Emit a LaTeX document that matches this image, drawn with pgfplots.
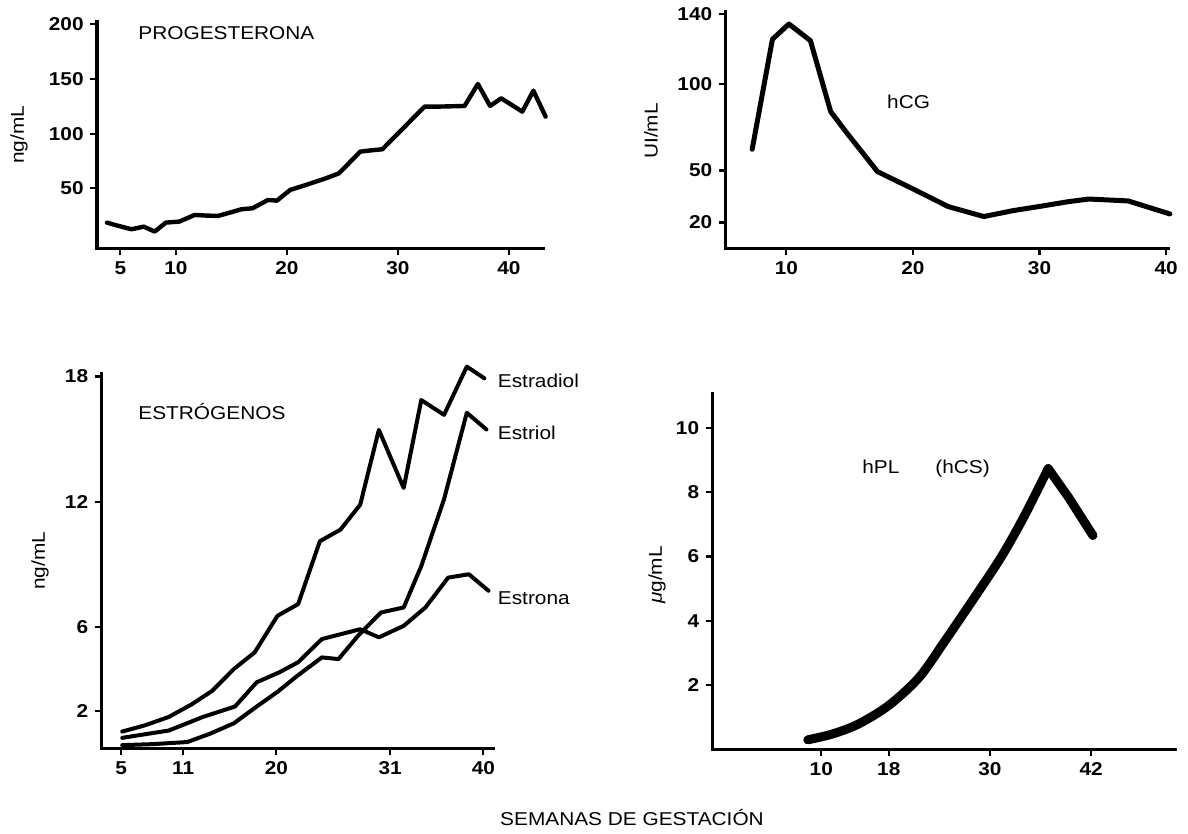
\documentclass[border=0pt]{standalone}
\usepackage{fontspec}
\setmainfont{Liberation Sans}[FakeStretch=1.12]
\usepackage{pgfplots}
\pgfplotsset{compat=1.18}
\newcommand\fs{\fontsize{9.3}{11}\selectfont}
\pgfplotsset{
  panel/.style={
    scale only axis,
    axis lines=left,
    axis line style={-, line width=1.7pt, line cap=rect},
    every outer x axis line/.append style={-},
    every outer y axis line/.append style={-},
    every inner x axis line/.append style={-},
    every inner y axis line/.append style={-},
    tick align=outside,
    major tick length=3.5pt,
    tick style={line width=1.1pt, black},
    /pgf/number format/assume math mode=true,
    tick label style={font=\fs\bfseries},
    xticklabel style={inner sep=3pt},
    yticklabel style={inner sep=3pt},
    clip=false,
    anchor=south west,
  },
  curve/.style={black, line width=2.2pt, line join=round, line cap=round, mark=none},
}
\begin{document}
\begin{tikzpicture}
% ---------------- Progesterona ----------------
\begin{axis}[panel, at={(48.5pt,292.85pt)}, width=223.2pt, height=113.3pt,
  xmin=2.9, xmax=43.1, ymin=-4.9, ymax=202.4,
  xtick={5,10,20,30,40}, ytick={50,100,150,200}]
\addplot[curve] table {
x y
3.8 18.6
4.5 16.5
6.0 12.5
7.1 14.9
8.1 10.4
9.1 18.6
10.3 19.5
11.7 25.6
12.8 25.0
13.8 24.7
15.2 28.7
15.9 30.8
16.9 31.7
18.3 39.3
19.1 38.7
20.3 48.5
21.7 53.0
23.5 59.1
24.7 63.7
26.6 83.5
27.4 84.5
28.6 85.7
32.4 124.7
33.6 124.7
36.0 125.3
37.2 145.4
38.3 125.3
39.3 132.3
41.2 120.1
42.2 139.3
43.3 115.5
};
\end{axis}
% ---------------- hCG ----------------
\begin{axis}[panel, at={(362.8pt,292.85pt)}, width=221.2pt, height=118.3pt,
  xmin=5.2, xmax=40.15, ymin=5.1, ymax=141.5,
  xtick={10,20,30,40}, ytick={20,50,100,140}]
\addplot[curve, line width=2.5pt] table {
x y
7.3 62.2
8.9 125.6
10.2 134.4
11.9 124.8
13.5 83.9
14.8 71.4
17.2 49.3
19.9 39.7
22.8 29.1
25.6 23.4
27.9 26.8
29.9 29.1
32.3 32.0
33.9 33.5
37.0 32.4
40.3 24.9
};
\end{axis}
% ---------------- Estrogenos ----------------
\begin{axis}[panel, at={(50.75pt,42.85pt)}, width=196.1pt, height=187.5pt,
  xmin=3.1, xmax=41.0, ymin=0.2, ymax=18.15,
  xtick={5,11,20,31,40}, ytick={2,6,12,18}]
% Estradiol
\addplot[curve, line width=2pt] table {
x y
5.1 1.0
7.3 1.3
9.6 1.7
11.8 2.3
13.8 2.95
15.9 4.00
17.9 4.79
20.1 6.54
22.1 7.10
24.2 10.11
26.2 10.67
28.1 11.86
29.9 15.44
32.3 12.66
34.0 16.87
36.2 16.16
38.4 18.47
40.1 17.91
};
% Estriol
\addplot[curve, line width=2pt] table {
x y
5.1 0.35
8.1 0.4
11.4 0.5
13.6 0.9
15.9 1.4
18.1 2.2
20.1 2.9
22.1 3.7
24.4 4.55
26.0 4.47
27.9 5.59
30.1 6.70
32.3 6.94
34.0 8.92
36.2 12.12
38.4 16.26
40.3 15.46
};
% Estrona
\addplot[curve, line width=2pt] table {
x y
5.1 0.7
9.6 1.05
12.9 1.7
16.0 2.2
18.1 3.36
20.3 3.84
22.1 4.32
24.4 5.43
28.1 5.90
29.9 5.51
32.3 6.06
34.4 6.94
36.6 8.37
38.6 8.53
40.5 7.74
};
\end{axis}
% ---------------- hPL ----------------
\begin{axis}[panel, at={(356.25pt,42.25pt)}, width=231.55pt, height=178.1pt,
  xmin=-2.89, xmax=52.0, ymin=0, ymax=11.07,
  xtick={10,18,30,42}, ytick={2,4,6,8,10}]
\addplot[curve, line width=4.5pt, smooth] table {
x y
8.4 0.30
11.3 0.48
14.4 0.79
18.0 1.37
21.6 2.24
24.7 3.39
28.2 4.74
31.3 5.97
34.0 7.22
36.9 8.73
};
\addplot[curve, line width=4.5pt] table {
x y
36.9 8.73
39.3 7.84
42.2 6.65
};
\end{axis}
% ---------------- texts ----------------
\node[anchor=base west, font=\fs, inner sep=0pt] at (69pt,397.35pt) {PROGESTERONA};
\node[anchor=base west, font=\fs, inner sep=0pt] at (443.4pt,362.8pt) {hCG};
\node[anchor=base west, font=\fs, inner sep=0pt] at (69pt,207pt) {ESTRÓGENOS};
\node[anchor=base west, font=\fs, inner sep=0pt] at (248.75pt,223.3pt) {Estradiol};
\node[anchor=base west, font=\fs, inner sep=0pt] at (248.75pt,197.3pt) {Estriol};
\node[anchor=base west, font=\fs, inner sep=0pt] at (248.75pt,114.5pt) {Estrona};
\node[anchor=base west, font=\fs, inner sep=0pt] at (431pt,180.3pt) {hPL};
\node[anchor=base west, font=\fs, inner sep=0pt] at (467.5pt,180.3pt) {(hCS)};
\node[rotate=90, font=\fs] at (9.5pt,349.5pt) {ng/mL};
\node[rotate=90, font=\fs] at (325.5pt,351.5pt) {UI/mL};
\node[rotate=90, font=\fs] at (20pt,136.5pt) {ng/mL};
\node[rotate=90, font=\fs] at (328.5pt,129.5pt) {{\itshape μ}g/mL};
\node[anchor=base, font=\fs, inner sep=0pt] at (316pt,4pt) {SEMANAS DE GESTACIÓN};
\pgfresetboundingbox
\useasboundingbox (0,0) rectangle (594pt,417pt);
\end{tikzpicture}
\end{document}
